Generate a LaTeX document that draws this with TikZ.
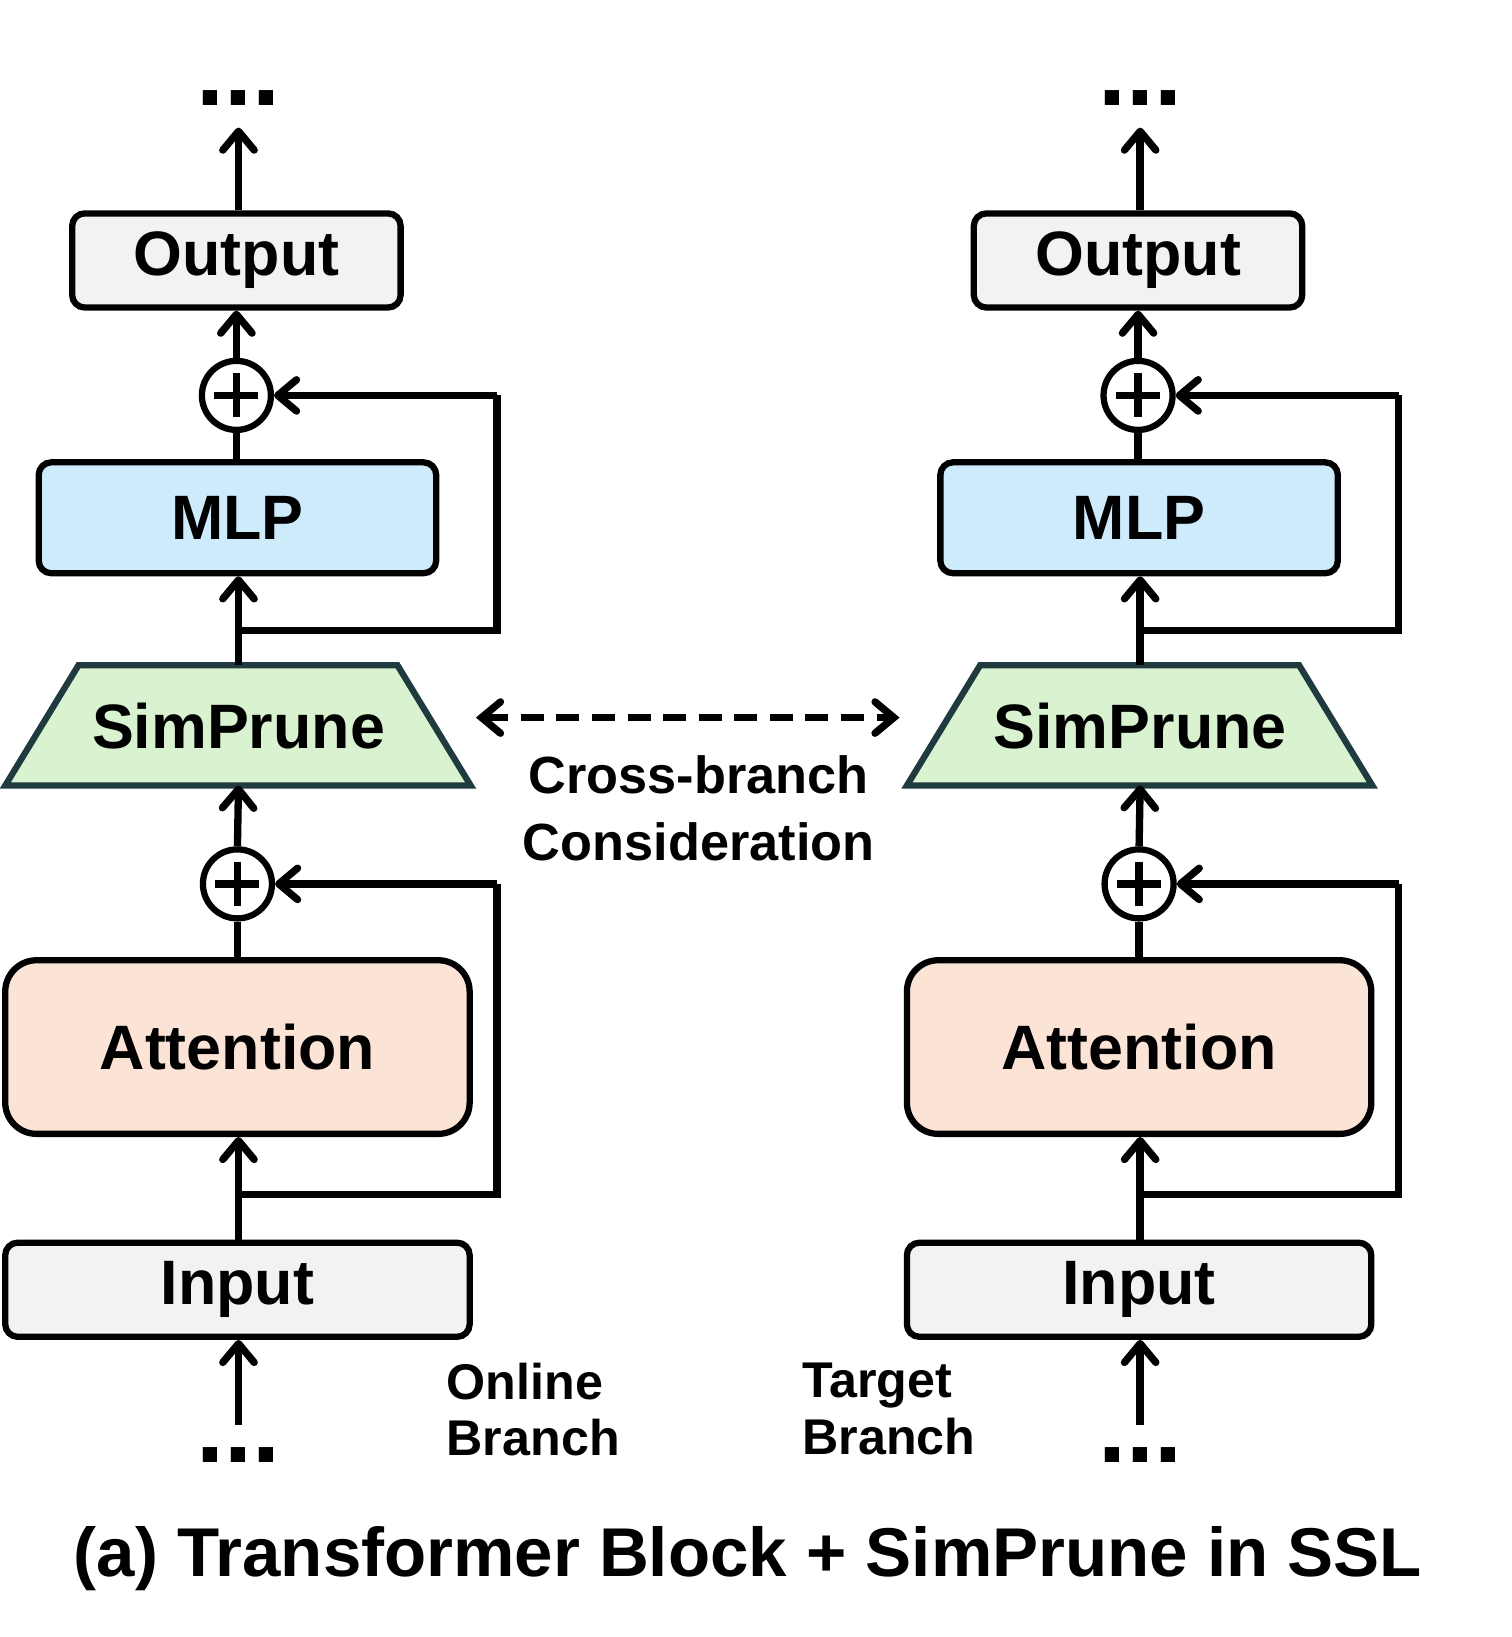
\documentclass[tikz,border=0pt]{standalone}
\usepackage{fontspec}
\setmainfont{Liberation Sans}
\usetikzlibrary{arrows.meta}
\definecolor{gbox}{HTML}{F2F2F2}
\definecolor{mlp}{HTML}{CDEBFA}
\definecolor{att}{HTML}{FBE3D6}
\definecolor{sp}{HTML}{D9F2D0}
\definecolor{spd}{HTML}{1F3B3F}
\begin{document}
\begin{tikzpicture}[x=0.5pt,y=-0.5pt,
  box/.style={draw,line width=3pt,rounded corners=6pt,font=\fontsize{30}{35}\bfseries\selectfont},
  ln/.style={line width=3.5pt},
  ar/.style={ln,-{Straight Barb[length=9pt,width=15pt,line cap=round,line join=round]}},
  pl/.style={draw,circle,line width=3pt,minimum size=33pt,inner sep=0pt,fill=white},
  lab/.style={font=\fontsize{24}{27}\bfseries\selectfont,align=left,anchor=north west},
  dots/.style={font=\fontsize{48}{48}\bfseries\selectfont,anchor=base}]
\useasboundingbox (0,0) rectangle (1445,1565);
\foreach \o/\s in {0/L,862/R}{
\begin{scope}[xshift=\o*0.5pt]
 \node[box,fill=gbox,minimum width=157pt,minimum height=45pt] (out\s) at (226,249) {Output};
 \node[pl] (p1\s) at (226,378) {};
 \draw[line width=3.5pt] (p1\s.center)++(0,-21)--++(0,42) (p1\s.center)++(-21,0)--++(42,0);
 \node[box,fill=mlp,minimum width=190pt,minimum height=53pt] (mlp\s) at (227,495) {MLP};
 \path[draw=spd,fill=sp,line width=3pt] (75,636)--(380,636)--(450,751)--(5,751)--cycle;
 \node[font=\fontsize{30}{35}\bfseries\selectfont] (sp\s) at (228,694) {SimPrune};
 \coordinate (spt\s) at (228,636); \coordinate (spb\s) at (228,751);
 \node[pl] (p2\s) at (227,845) {};
 \draw[line width=3.5pt] (p2\s.center)++(0,-21)--++(0,42) (p2\s.center)++(-21,0)--++(42,0);
 \node[box,rounded corners=15pt,fill=att,minimum width=222pt,minimum height=83pt] (att\s) at (227,1001) {Attention};
 \node[box,fill=gbox,minimum width=222pt,minimum height=45pt] (in\s) at (227,1233) {Input};
 \node[dots] (dt\s) at (228,101) {...};
 \node[dots] (db\s) at (228,1398) {...};
 \coordinate (bt\s) at (228,1362);
 \coordinate (tt\s) at (228,122);
 \draw[ar] (bt\s)--(in\s.south-|bt\s);
 \draw[ar] (in\s.north-|bt\s)--(att\s.south-|bt\s);
 \coordinate (j1\s) at (228,1142); \coordinate (c1\s) at (475,1142); \coordinate (c2\s) at (475,845);
 \draw[ln,line join=miter] (j1\s)--(c1\s)--(c2\s);
 \draw[ar] (c2\s)--(p2\s.east);
 \draw[ln] (att\s.north-|p2\s)--(p2\s.south);
 \draw[ar] (p2\s.north)--(spb\s);
 \draw[ar] (spt\s)--(mlp\s.south-|spt\s);
 \coordinate (j2\s) at (228,603); \coordinate (c3\s) at (475,603); \coordinate (c4\s) at (475,378);
 \draw[ln,line join=miter] (j2\s)--(c3\s)--(c4\s);
 \draw[ar] (c4\s)--(p1\s.east);
 \draw[ln] (mlp\s.north-|p1\s)--(p1\s.south);
 \draw[ar] (p1\s.north)--(out\s.south-|p1\s);
 \draw[ar] (out\s.north-|tt\s)--(tt\s);
\end{scope}}
\coordinate (da) at (455,686); \coordinate (db) at (860,686);
\draw[ln,dash pattern=on 11pt off 6pt,{Straight Barb[length=9pt,width=15pt,line cap=round]}-{Straight Barb[length=9pt,width=15pt,line cap=round]}] (da)--(db);
\node[font=\fontsize{25}{32}\bfseries\selectfont,align=center] (cb) at (668,773) {Cross-branch\\Consideration};
\node[lab] (ob) at (420,1296) {Online\\Branch};
\node[lab] (tb) at (760,1296) {Target\\Branch};
\node[font=\fontsize{33}{40}\bfseries\selectfont] (title) at (715,1490) {(a) Transformer Block + SimPrune in SSL};
\end{tikzpicture}
\end{document}
